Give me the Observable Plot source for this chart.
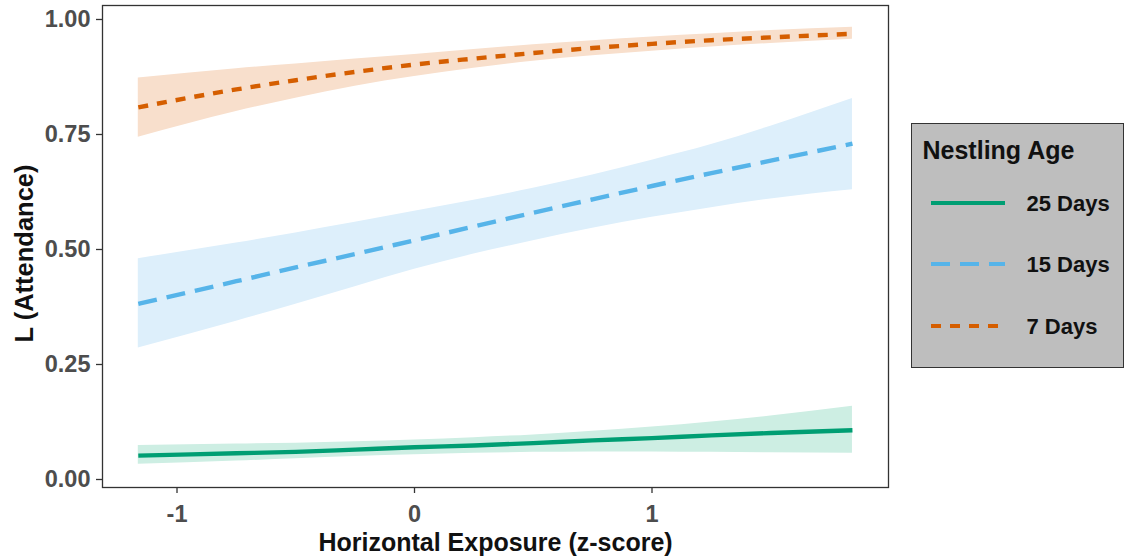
<!DOCTYPE html>
<html>
<head>
<meta charset="utf-8">
<script src="https://cdn.jsdelivr.net/npm/d3@7"></script>
<script src="https://cdn.jsdelivr.net/npm/@observablehq/plot@0.6"></script>
<style>
  html, body { margin: 0; padding: 0; background: #fff; }
  body { width: 1125px; height: 558px; position: relative; overflow: hidden;
         font-family: "Liberation Sans", Arial, sans-serif; }
  #chart { position: absolute; left: 0; top: 0; }
  #legend { position: absolute; left: 911px; top: 123px; width: 213px; height: 245px;
            background: #bebebe; border: 1.5px solid #333; box-sizing: border-box; }
  #legend .title { position: absolute; left: 10.5px; top: 12px; font-size: 25px; font-weight: bold; color: #111; white-space: nowrap; }
  #legend .row { position: absolute; left: 18.5px; height: 20px; width: 190px; }
  #legend .row span { position: absolute; left: 96px; top: -2px; font-size: 22px; font-weight: bold; color: #111; white-space: nowrap; }
  #legend svg { position: absolute; left: 0; top: 0; }
</style>
</head>
<body>
<div id="chart"></div>
<div id="legend"></div>
<script>
// Predicted attendance against horizontal exposure, one curve per nestling age
const exposure = [-1.163, -0.75, -0.5, -0.25, 0, 0.25, 0.5, 0.75, 1, 1.25, 1.5, 1.844];

const ages = ["25 Days", "15 Days", "7 Days"];
const ageColors = ["#009E73", "#56B4E9", "#D55E00"];
const ageFills = ["#cdeee3", "#ddeffb", "#f8dfcc"];
const ageDashes = [null, "19,10", "10,9"];

const fit25 = [0.052, 0.057, 0.060, 0.065, 0.070, 0.074, 0.079, 0.085, 0.090, 0.096, 0.101, 0.107];
const lo25  = [0.033, 0.040, 0.045, 0.050, 0.054, 0.057, 0.059, 0.060, 0.060, 0.059, 0.058, 0.057];
const hi25  = [0.074, 0.077, 0.079, 0.082, 0.086, 0.091, 0.097, 0.105, 0.114, 0.125, 0.138, 0.159];

const fit15 = [0.382, 0.431, 0.461, 0.490, 0.520, 0.550, 0.580, 0.609, 0.638, 0.666, 0.693, 0.730];
const lo15  = [0.286, 0.344, 0.381, 0.419, 0.457, 0.490, 0.519, 0.546, 0.570, 0.591, 0.610, 0.630];
const hi15  = [0.480, 0.514, 0.536, 0.559, 0.583, 0.607, 0.633, 0.662, 0.694, 0.728, 0.768, 0.828];

const fit7 = [0.809, 0.848, 0.868, 0.886, 0.902, 0.915, 0.927, 0.938, 0.947, 0.955, 0.961, 0.969];
const lo7  = [0.744, 0.800, 0.829, 0.855, 0.876, 0.894, 0.909, 0.921, 0.931, 0.940, 0.948, 0.957];
const hi7  = [0.873, 0.893, 0.903, 0.914, 0.924, 0.935, 0.945, 0.954, 0.962, 0.969, 0.976, 0.983];

const yTicks = [0, 0.25, 0.5, 0.75, 1];
const xTicks = [-1, 0, 1];

const seriesValues = [[fit25, lo25, hi25], [fit15, lo15, hi15], [fit7, lo7, hi7]];
const rows = ages.flatMap((age, i) =>
  exposure.map((x, j) => ({
    age, x,
    fit: seriesValues[i][0][j],
    lo: seriesValues[i][1][j],
    hi: seriesValues[i][2][j]
  }))
);

const font = '"Liberation Sans", Arial, sans-serif';
const marks = [];
ages.forEach((age, i) => {
  const d = rows.filter(r => r.age === age);
  marks.push(Plot.areaY(d, {x: "x", y1: "lo", y2: "hi", fill: ageFills[i], curve: "monotone-x"}));
});
ages.forEach((age, i) => {
  const d = rows.filter(r => r.age === age);
  marks.push(Plot.line(d, {
    x: "x", y: "fit", stroke: ageColors[i], strokeWidth: 4.4,
    strokeDasharray: ageDashes[i] || undefined, strokeLinecap: "butt", curve: "monotone-x"
  }));
});

const chart = Plot.plot({
  width: 895,
  height: 558,
  marginLeft: 102,
  marginRight: 7,
  marginTop: 5,
  marginBottom: 71,
  style: {fontFamily: font, background: "#fff"},
  x: {domain: [-1.3137, 1.9958], ticks: xTicks},
  y: {domain: [-0.0174, 1.0304], ticks: yTicks},
  marks: [
    ...marks,
    Plot.frame({stroke: "#333", strokeWidth: 1.3}),
    Plot.axisY(yTicks, {
      tickSize: 6, tickPadding: 6, label: null, tickFormat: d3.format(".2f"),
      fontSize: 23.5, fontWeight: "bold", fill: "#4d4d4d", stroke: "#333", strokeWidth: 1.3
    }),
    Plot.axisX(xTicks, {
      tickSize: 6, tickPadding: 12, label: null, tickFormat: d => String(d),
      fontSize: 23.5, fontWeight: "bold", fill: "#4d4d4d", stroke: "#333", strokeWidth: 1.3
    }),
    Plot.text(["Horizontal Exposure (z-score)"], {
      frameAnchor: "bottom", dy: 55, text: d => d, fontSize: 25, fontWeight: "bold", fill: "#111",
      lineAnchor: "middle", textAnchor: "middle"
    }),
    Plot.text(["L (Attendance)"], {
      frameAnchor: "left", dx: -78, dy: 7, rotate: -90, text: d => d, fontSize: 25.5, fontWeight: "bold",
      fill: "#111", lineAnchor: "middle", textAnchor: "middle"
    })
  ]
});
document.getElementById("chart").appendChild(chart);

// Legend: one swatch per nestling age
const legend = document.getElementById("legend");
const title = document.createElement("div");
title.className = "title";
title.textContent = "Nestling Age";
legend.appendChild(title);
const rowTops = [69, 130, 192];
ages.forEach((age, i) => {
  const row = document.createElement("div");
  row.className = "row";
  row.style.top = rowTops[i] + "px";
  const svg = d3.create("svg").attr("width", 76).attr("height", 20);
  svg.append("line")
    .attr("x1", 0).attr("x2", 74).attr("y1", 10).attr("y2", 10)
    .attr("stroke", ageColors[i]).attr("stroke-width", 4.2)
    .attr("stroke-dasharray", ageDashes[i]);
  row.appendChild(svg.node());
  const label = document.createElement("span");
  label.textContent = age;
  row.appendChild(label);
  legend.appendChild(row);
});
</script>
</body>
</html>
